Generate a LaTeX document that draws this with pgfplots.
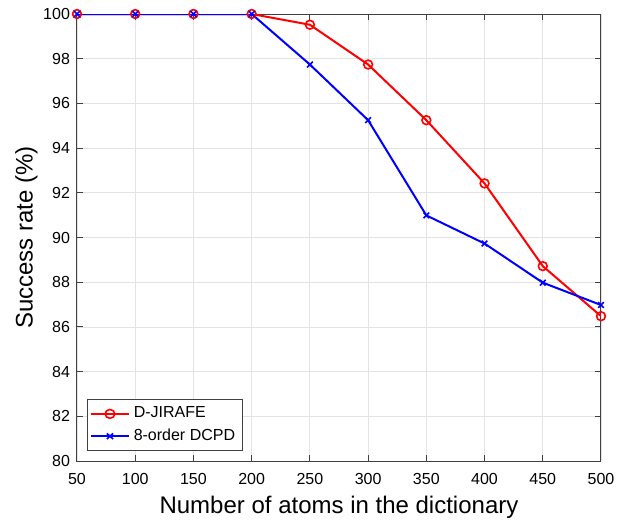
\documentclass[border=0pt]{standalone}
\usepackage{fontspec}
\setmainfont{Liberation Sans}
\usepackage{pgfplots}
\pgfplotsset{compat=1.18}

\begin{document}
\begin{tikzpicture}
\useasboundingbox (-38.5pt,-30pt) rectangle (278.5pt,230.5pt);
\begin{axis}[
    at={(0,0)}, anchor=south west,
    width=262pt, height=223.5pt,
    scale only axis,
    xmin=50, xmax=500, ymin=80, ymax=100,
    xtick={50,100,...,500},
    ytick={80,82,...,100},
    tick align=inside,
    major tick length=3pt,
    grid=major,
    major grid style={gray!22, line width=0.4pt},
    axis line style={black!75, line width=0.5pt},
    tick style={black!75, line width=0.5pt},
    tick label style={font=\fontsize{8}{9}\selectfont},
    xticklabel style={yshift=-2.5pt},
    /pgf/number format/assume math mode=true,
    xlabel={Number of atoms in the dictionary},
    ylabel={Success rate (\%)},
    label style={font=\fontsize{12}{14}\selectfont},
    xlabel style={at={(axis description cs:0.5,0)}, anchor=center, yshift=-23pt},
    ylabel style={yshift=-4pt},
    legend style={at={(axis cs:50,80)}, anchor=south west, xshift=4.85pt, yshift=5pt,
        font=\fontsize{8}{9.5}\selectfont, draw=black!75, line width=0.5pt,
        inner sep=1.5pt, row sep=0pt},
    legend cell align=left,
    legend image post style={xscale=1.1},
]
\addplot[red, line width=1pt, mark=o, mark size=2.2pt, mark options={line width=0.8pt}] coordinates {
    (50,100) (100,100) (150,100) (200,100) (250,99.52)
    (300,97.74) (350,95.25) (400,92.42) (450,88.72) (500,86.48)
};
\addlegendentry{D-JIRAFE}
\addplot[blue, line width=1pt, mark=x, mark size=2pt, mark options={line width=0.8pt}] coordinates {
    (50,100) (100,100) (150,100) (200,100) (250,97.74)
    (300,95.25) (350,90.99) (400,89.73) (450,87.98) (500,86.98)
};
\addlegendentry{8-order DCPD}
\end{axis}
\end{tikzpicture}
\end{document}
